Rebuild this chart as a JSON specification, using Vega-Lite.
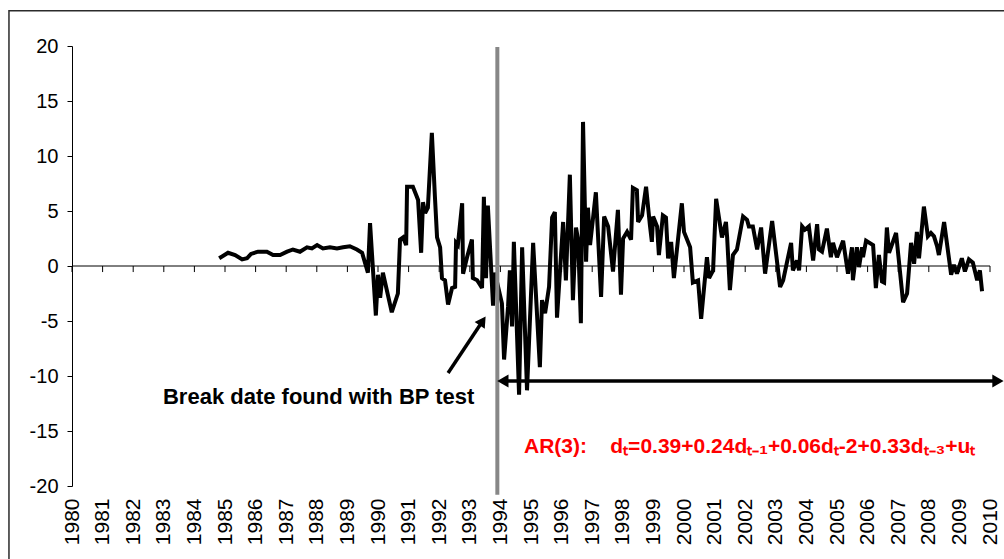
{
  "$schema": "https://vega.github.io/schema/vega-lite/v6.json",
  "width": 918,
  "height": 440,
  "autosize": {"type": "none"},
  "padding": {"left": 72, "top": 46, "right": 14, "bottom": 73},
  "background": "white",
  "config": {"view": {"stroke": null}, "font": "Liberation Sans", "axis": {"labelOverlap": false, "labelFlush": false, "labelBound": false}},
  "datasets": {
    "series": [
      {"x": 1984.81, "y": 0.7}, {"x": 1985.10, "y": 1.2}, {"x": 1985.33, "y": 1.0}, {"x": 1985.56, "y": 0.6},
      {"x": 1985.72, "y": 0.7}, {"x": 1985.85, "y": 1.1}, {"x": 1986.08, "y": 1.3}, {"x": 1986.37, "y": 1.3},
      {"x": 1986.57, "y": 1.0}, {"x": 1986.80, "y": 1.0}, {"x": 1987.03, "y": 1.3}, {"x": 1987.22, "y": 1.5},
      {"x": 1987.45, "y": 1.3}, {"x": 1987.68, "y": 1.7}, {"x": 1987.84, "y": 1.6}, {"x": 1988.01, "y": 1.9},
      {"x": 1988.20, "y": 1.6}, {"x": 1988.43, "y": 1.7}, {"x": 1988.66, "y": 1.6}, {"x": 1988.86, "y": 1.7},
      {"x": 1989.08, "y": 1.8}, {"x": 1989.31, "y": 1.5}, {"x": 1989.48, "y": 1.2}, {"x": 1989.67, "y": -0.6},
      {"x": 1989.74, "y": 3.9}, {"x": 1989.93, "y": -4.5}, {"x": 1990.00, "y": -0.8}, {"x": 1990.07, "y": -2.9},
      {"x": 1990.16, "y": -0.6}, {"x": 1990.45, "y": -4.2}, {"x": 1990.65, "y": -2.5}, {"x": 1990.72, "y": 2.4},
      {"x": 1990.82, "y": 2.6}, {"x": 1990.92, "y": 1.9}, {"x": 1990.95, "y": 7.2}, {"x": 1991.14, "y": 7.2},
      {"x": 1991.27, "y": 6.3}, {"x": 1991.31, "y": 6.0}, {"x": 1991.41, "y": 1.2}, {"x": 1991.47, "y": 5.8},
      {"x": 1991.54, "y": 4.8}, {"x": 1991.63, "y": 5.3}, {"x": 1991.76, "y": 12.1}, {"x": 1991.86, "y": 6.3},
      {"x": 1991.93, "y": 2.6}, {"x": 1992.03, "y": 1.7}, {"x": 1992.09, "y": -1.1}, {"x": 1992.19, "y": -1.3},
      {"x": 1992.29, "y": -3.5}, {"x": 1992.42, "y": -2.0}, {"x": 1992.52, "y": -1.9}, {"x": 1992.55, "y": 2.1},
      {"x": 1992.61, "y": 1.9}, {"x": 1992.75, "y": 5.7}, {"x": 1992.78, "y": -0.7}, {"x": 1992.91, "y": 0.8},
      {"x": 1993.07, "y": 2.4}, {"x": 1993.10, "y": -1.1}, {"x": 1993.24, "y": -1.3}, {"x": 1993.40, "y": -2.0},
      {"x": 1993.46, "y": 6.3}, {"x": 1993.53, "y": -1.1}, {"x": 1993.59, "y": 5.5}, {"x": 1993.76, "y": -3.6},
      {"x": 1993.82, "y": -0.6}, {"x": 1994.05, "y": -3.4}, {"x": 1994.12, "y": -8.5}, {"x": 1994.25, "y": -3.7},
      {"x": 1994.31, "y": -0.4}, {"x": 1994.38, "y": -5.5}, {"x": 1994.44, "y": 2.2}, {"x": 1994.61, "y": -11.7},
      {"x": 1994.71, "y": 1.7}, {"x": 1994.87, "y": -11.3}, {"x": 1995.07, "y": 2.1}, {"x": 1995.29, "y": -9.2},
      {"x": 1995.36, "y": -3.1}, {"x": 1995.46, "y": -4.3}, {"x": 1995.59, "y": -1.9}, {"x": 1995.69, "y": 4.4},
      {"x": 1995.78, "y": 4.9}, {"x": 1995.85, "y": -4.7}, {"x": 1996.05, "y": 4.0}, {"x": 1996.14, "y": -1.3},
      {"x": 1996.27, "y": 8.3}, {"x": 1996.37, "y": -3.1}, {"x": 1996.47, "y": 3.5}, {"x": 1996.54, "y": 2.4},
      {"x": 1996.63, "y": -5.2}, {"x": 1996.70, "y": 13.1}, {"x": 1996.80, "y": 0.4}, {"x": 1996.86, "y": 5.3},
      {"x": 1996.93, "y": 1.9}, {"x": 1997.12, "y": 6.7}, {"x": 1997.29, "y": -2.8}, {"x": 1997.39, "y": 4.5},
      {"x": 1997.52, "y": 3.6}, {"x": 1997.68, "y": -0.5}, {"x": 1997.84, "y": 5.1}, {"x": 1997.94, "y": -2.6},
      {"x": 1998.01, "y": 2.5}, {"x": 1998.14, "y": 3.1}, {"x": 1998.27, "y": 2.4}, {"x": 1998.33, "y": 7.1},
      {"x": 1998.46, "y": 6.9}, {"x": 1998.50, "y": 4.0}, {"x": 1998.63, "y": 4.6}, {"x": 1998.76, "y": 7.2},
      {"x": 1998.89, "y": 3.6}, {"x": 1998.95, "y": 2.2}, {"x": 1998.99, "y": 4.5}, {"x": 1999.12, "y": 3.6},
      {"x": 1999.18, "y": 1.0}, {"x": 1999.31, "y": 4.6}, {"x": 1999.41, "y": 4.4}, {"x": 1999.48, "y": 0.7},
      {"x": 1999.58, "y": 2.2}, {"x": 1999.67, "y": -1.1}, {"x": 1999.93, "y": 5.7}, {"x": 2000.00, "y": 3.1},
      {"x": 2000.20, "y": 1.7}, {"x": 2000.29, "y": -1.5}, {"x": 2000.46, "y": -1.3}, {"x": 2000.56, "y": -4.8},
      {"x": 2000.75, "y": 0.8}, {"x": 2000.82, "y": -1.1}, {"x": 2000.95, "y": -0.4}, {"x": 2001.05, "y": 6.1},
      {"x": 2001.24, "y": 2.6}, {"x": 2001.37, "y": 4.0}, {"x": 2001.41, "y": 2.6}, {"x": 2001.50, "y": -2.2},
      {"x": 2001.60, "y": 1.0}, {"x": 2001.73, "y": 1.5}, {"x": 2001.93, "y": 4.5}, {"x": 2002.06, "y": 4.2},
      {"x": 2002.12, "y": 3.6}, {"x": 2002.25, "y": 3.6}, {"x": 2002.39, "y": 1.5}, {"x": 2002.52, "y": 3.5},
      {"x": 2002.65, "y": -0.7}, {"x": 2002.88, "y": 4.1}, {"x": 2003.14, "y": -1.9}, {"x": 2003.24, "y": -1.3},
      {"x": 2003.50, "y": 2.1}, {"x": 2003.56, "y": -0.4}, {"x": 2003.69, "y": 0.5}, {"x": 2003.76, "y": -0.4},
      {"x": 2003.86, "y": 3.6}, {"x": 2003.95, "y": 3.3}, {"x": 2004.08, "y": 3.6}, {"x": 2004.22, "y": 0.5},
      {"x": 2004.35, "y": 3.8}, {"x": 2004.41, "y": 1.5}, {"x": 2004.51, "y": 1.3}, {"x": 2004.67, "y": 3.4},
      {"x": 2004.80, "y": 0.8}, {"x": 2004.87, "y": 2.1}, {"x": 2005.00, "y": 0.8}, {"x": 2005.20, "y": 2.3},
      {"x": 2005.36, "y": -0.7}, {"x": 2005.49, "y": 1.7}, {"x": 2005.52, "y": -1.3}, {"x": 2005.65, "y": 1.7},
      {"x": 2005.72, "y": -0.1}, {"x": 2005.82, "y": 1.7}, {"x": 2005.85, "y": 0.8}, {"x": 2005.95, "y": 2.3},
      {"x": 2006.18, "y": 1.9}, {"x": 2006.27, "y": -2.0}, {"x": 2006.37, "y": 1.0}, {"x": 2006.47, "y": -1.4},
      {"x": 2006.54, "y": -1.5}, {"x": 2006.63, "y": 3.5}, {"x": 2006.70, "y": 1.2}, {"x": 2006.93, "y": 3.0},
      {"x": 2007.16, "y": -3.3}, {"x": 2007.29, "y": -2.5}, {"x": 2007.42, "y": 2.1}, {"x": 2007.52, "y": 0.2},
      {"x": 2007.61, "y": 3.1}, {"x": 2007.68, "y": 0.7}, {"x": 2007.84, "y": 5.4}, {"x": 2007.97, "y": 2.7},
      {"x": 2008.07, "y": 3.0}, {"x": 2008.17, "y": 2.7}, {"x": 2008.27, "y": 1.8}, {"x": 2008.33, "y": 1.0},
      {"x": 2008.50, "y": 4.0}, {"x": 2008.73, "y": -0.8}, {"x": 2008.82, "y": 0.1}, {"x": 2008.92, "y": -0.7},
      {"x": 2009.08, "y": 0.7}, {"x": 2009.18, "y": -0.5}, {"x": 2009.31, "y": 0.6}, {"x": 2009.44, "y": 0.3},
      {"x": 2009.58, "y": -1.3}, {"x": 2009.67, "y": -0.4}, {"x": 2009.74, "y": -2.3}
    ],
    "years": [
      {"x": 1980, "y": 0}, {"x": 1981, "y": 0}, {"x": 1982, "y": 0}, {"x": 1983, "y": 0}, {"x": 1984, "y": 0},
      {"x": 1985, "y": 0}, {"x": 1986, "y": 0}, {"x": 1987, "y": 0}, {"x": 1988, "y": 0}, {"x": 1989, "y": 0},
      {"x": 1990, "y": 0}, {"x": 1991, "y": 0}, {"x": 1992, "y": 0}, {"x": 1993, "y": 0}, {"x": 1994, "y": 0},
      {"x": 1995, "y": 0}, {"x": 1996, "y": 0}, {"x": 1997, "y": 0}, {"x": 1998, "y": 0}, {"x": 1999, "y": 0},
      {"x": 2000, "y": 0}, {"x": 2001, "y": 0}, {"x": 2002, "y": 0}, {"x": 2003, "y": 0}, {"x": 2004, "y": 0},
      {"x": 2005, "y": 0}, {"x": 2006, "y": 0}, {"x": 2007, "y": 0}, {"x": 2008, "y": 0}, {"x": 2009, "y": 0},
      {"x": 2010, "y": 0}
    ],
    "zero": [{"x": 1980, "x2": 2010, "y": 0}],
    "frame": [{"x": 1977.94, "x2": 2015, "y": 23.2, "y2": -40}],
    "span": [{"x": 1994.08, "x2": 2010.26, "y": -10.45}],
    "spanHeads": [{"x": 1994.08, "y": -10.45, "dir": "left"}, {"x": 2010.26, "y": -10.45, "dir": "right"}],
    "pointer": [{"x": 1992.29, "y": -9.73, "x2": 1993.42, "y2": -5.0}],
    "pointerHead": [{"x": 1993.42, "y": -5.0}],
    "breakLabel": [{"x": 1988.06, "y": -11.9, "label": "Break date found with BP test"}],
    "modelLabel": [{"x": 1994.77, "y": -16.45, "label": "AR(3):\u00a0\u00a0\u00a0\u00a0dₜ=0.39+0.24dₜ₋₁+0.06dₜ-2+0.33dₜ₋₃+uₜ"}],
    "breakLine": [{"x": 1993.9, "y": 19.9, "y2": -20.8}]
  },
  "encoding": {
    "x": {
      "field": "x", "type": "quantitative",
      "scale": {"domain": [1980, 2010], "nice": false, "zero": false},
      "axis": {
        "values": [1980, 1981, 1982, 1983, 1984, 1985, 1986, 1987, 1988, 1989, 1990, 1991, 1992, 1993, 1994, 1995, 1996, 1997, 1998, 1999, 2000, 2001, 2002, 2003, 2004, 2005, 2006, 2007, 2008, 2009, 2010],
        "labelExpr": "'' + datum.value", "labelAngle": -90, "domain": false, "ticks": false, "grid": false,
        "labelPadding": 12, "labelFontSize": 21, "labelColor": "black", "labelFont": "Liberation Sans",
        "labelFlush": false, "labelOverlap": false, "title": null
      }
    },
    "y": {
      "field": "y", "type": "quantitative",
      "scale": {"domain": [-20, 20], "nice": false, "zero": false},
      "axis": {
        "values": [-20, -15, -10, -5, 0, 5, 10, 15, 20],
        "labelExpr": "'' + datum.value",
        "domainColor": "black", "domainWidth": 1, "tickColor": "black", "tickSize": 5, "tickWidth": 1,
        "labelPadding": 9, "labelFontSize": 20, "labelColor": "black", "labelFont": "Liberation Sans",
        "grid": false, "title": null, "labelFlush": false, "labelOverlap": false
      }
    }
  },
  "layer": [
    {
      "data": {"name": "frame"},
      "mark": {"type": "rect", "filled": false, "color": "#2b2b2b", "strokeWidth": 1.5, "clip": false},
      "encoding": {"x2": {"field": "x2"}, "y2": {"field": "y2"}}
    },
    {
      "data": {"name": "zero"},
      "mark": {"type": "rule", "color": "black", "strokeWidth": 1},
      "encoding": {"x2": {"field": "x2"}}
    },
    {
      "data": {"name": "years"},
      "mark": {"type": "rule", "color": "black", "strokeWidth": 1},
      "encoding": {"y2": {"datum": -0.55}}
    },
    {
      "data": {"name": "series"},
      "mark": {"type": "line", "color": "black", "strokeWidth": 4, "strokeJoin": "miter", "strokeMiterLimit": 3},
      "encoding": {}
    },
    {
      "data": {"name": "breakLine"},
      "mark": {"type": "rule", "color": "#878787", "strokeWidth": 4, "clip": false},
      "encoding": {"y2": {"field": "y2"}}
    },
    {
      "data": {"name": "span"},
      "mark": {"type": "rule", "color": "black", "strokeWidth": 3.5, "clip": false},
      "encoding": {"x2": {"field": "x2"}}
    },
    {
      "data": {"name": "spanHeads"},
      "mark": {"type": "point", "filled": true, "color": "black", "size": 170, "opacity": 1, "clip": false},
      "encoding": {
        "shape": {"field": "dir", "type": "nominal", "scale": {"domain": ["left", "right"], "range": ["triangle-left", "triangle-right"]}, "legend": null}
      }
    },
    {
      "data": {"name": "pointer"},
      "mark": {"type": "rule", "color": "black", "strokeWidth": 3.5},
      "encoding": {"x2": {"field": "x2"}, "y2": {"field": "y2"}}
    },
    {
      "data": {"name": "pointerHead"},
      "mark": {"type": "point", "shape": "triangle-up", "angle": 34, "filled": true, "color": "black", "size": 150, "opacity": 1},
      "encoding": {}
    },
    {
      "data": {"name": "breakLabel"},
      "mark": {"type": "text", "font": "Liberation Sans", "fontWeight": "bold", "fontSize": 22, "color": "black", "align": "center", "baseline": "middle"},
      "encoding": {"text": {"field": "label"}}
    },
    {
      "data": {"name": "modelLabel"},
      "mark": {"type": "text", "font": "Liberation Sans", "fontWeight": "bold", "fontSize": 21, "color": "#ff0000", "align": "left", "baseline": "middle", "clip": false},
      "encoding": {"text": {"field": "label"}}
    }
  ]
}
